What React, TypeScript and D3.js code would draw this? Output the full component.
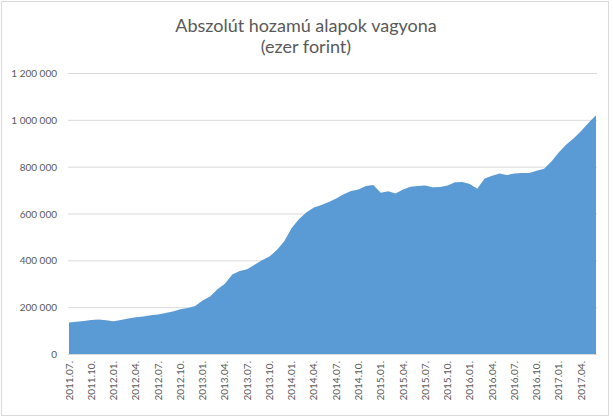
import * as d3 from "d3";
import { useEffect, useRef } from "react";

// havi adatok, 2011.07. - 2017.06. (ezer forint)
const months: string[] = [];
for (let y = 2011; y <= 2017; y++) {
  for (let m = 1; m <= 12; m++) {
    if ((y === 2011 && m < 7) || (y === 2017 && m > 6)) continue;
    months.push(`${y}.${String(m).padStart(2, "0")}.`);
  }
}

const assets = [
  135000, 138000, 141000, 145000, 147000, 144000, 140000, 145000, 152000, 157000,
  160000, 165000, 169000, 175000, 181000, 191000, 196000, 205000, 229000, 246000,
  276000, 300000, 339000, 354000, 362000, 381000, 400000, 416000, 444000, 481000,
  538000, 577000, 605000, 626000, 636000, 649000, 664000, 682000, 696000, 703000,
  717000, 722000, 689000, 695000, 685000, 703000, 714000, 717000, 720000, 712000,
  713000, 720000, 733000, 734000, 726000, 706000, 750000, 761000, 771000, 764000,
  771000, 773000, 773000, 783000, 791000, 822000, 862000, 895000, 921000, 952000,
  988000, 1020000,
];

const yTicks = [0, 200000, 400000, 600000, 800000, 1000000, 1200000];

const titleLines = ["Abszolút hozamú alapok vagyona", "(ezer forint)"];

export default function App() {
  const svgRef = useRef<SVGSVGElement>(null);

  useEffect(() => {
    if (!svgRef.current) return;
    const svg = d3.select(svgRef.current);
    svg.selectAll("*").remove();

    const left = 69;
    const right = 596;
    const top = 73;
    const bottom = 354;
    const font = "Lato, 'Open Sans', sans-serif";

    const huFormat = d3
      .formatLocale({ thousands: " ", grouping: [3], decimal: ",", currency: ["", ""] })
      .format(",d");

    const x = d3.scalePoint<string>().domain(months).range([left, right]);
    const y = d3.scaleLinear().domain([0, 1200000]).range([bottom, top]);

    // Border
    svg
      .append("rect")
      .attr("x", 1.5)
      .attr("y", 1.5)
      .attr("width", 607)
      .attr("height", 414)
      .attr("fill", "white")
      .attr("stroke", "#d9d9d9");

    // Title
    svg
      .append("g")
      .selectAll("text")
      .data(titleLines)
      .enter()
      .append("text")
      .attr("x", 306)
      .attr("y", (_, i) => 31.5 + i * 21.5)
      .attr("text-anchor", "middle")
      .style("font-family", font)
      .style("font-size", "18px")
      .attr("fill", "#595959")
      .text((d) => d);

    // Gridlines
    svg
      .append("g")
      .selectAll("line")
      .data(yTicks)
      .enter()
      .append("line")
      .attr("x1", left - 1)
      .attr("x2", right + 1)
      .attr("y1", (d) => y(d) + 0.5)
      .attr("y2", (d) => y(d) + 0.5)
      .attr("stroke", "#d9d9d9")
      .attr("stroke-width", 1);

    // Y axis labels
    svg
      .append("g")
      .selectAll("text")
      .data(yTicks)
      .enter()
      .append("text")
      .attr("x", 57)
      .attr("y", (d) => y(d) + 4)
      .attr("text-anchor", "end")
      .style("font-family", font)
      .style("font-size", "10px")
      .attr("fill", "#595959")
      .text((d) => huFormat(d));

    // Area
    const area = d3
      .area<number>()
      .x((_, i) => x(months[i]) as number)
      .y0(y(0))
      .y1((d) => y(d));

    svg
      .append("path")
      .datum(assets)
      .attr("fill", "#5b9bd5")
      .attr("d", area);

    // X labels, every third month
    const shown = months.filter((_, i) => i % 3 === 0);
    svg
      .append("g")
      .selectAll("text")
      .data(shown)
      .enter()
      .append("text")
      .attr(
        "transform",
        (d) => `translate(${(x(d) as number) + 3.5},361) rotate(-90)`,
      )
      .attr("text-anchor", "end")
      .style("font-family", font)
      .style("font-size", "10px")
      .attr("fill", "#595959")
      .text((d) => d);
  }, []);

  return (
    <div style={{ position: "fixed", left: 0, top: 0, background: "white" }}>
      <svg ref={svgRef} width={613} height={418} style={{ display: "block" }} />
    </div>
  );
}
